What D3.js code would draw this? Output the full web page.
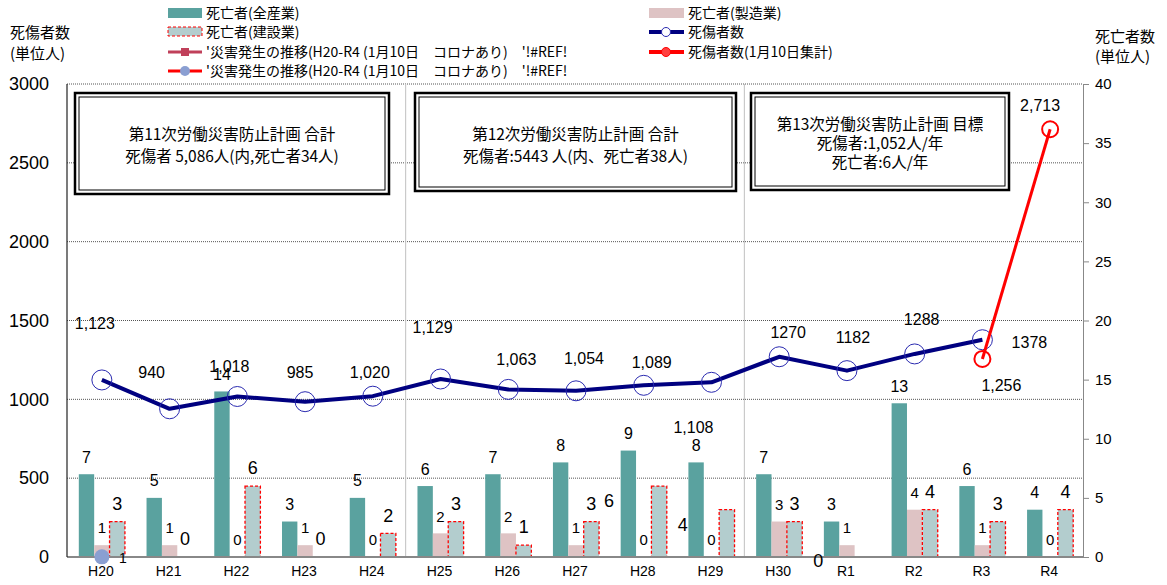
<!DOCTYPE html>
<html>
<head>
<meta charset="utf-8">
<script src="https://cdn.jsdelivr.net/npm/d3@7"></script>
<style>
  body { margin: 0; background: #fff; }
  svg { font-family: 'Liberation Sans', Arial, 'Noto Sans CJK JP', sans-serif; }
</style>
</head>
<body>
<svg id="chart" width="1167" height="585"></svg>
<script>
var years = ['H20', 'H21', 'H22', 'H23', 'H24', 'H25', 'H26', 'H27', 'H28', 'H29', 'H30', 'R1', 'R2', 'R3', 'R4'];
var deathsAll = [7, 5, 14, 3, 5, 6, 7, 8, 9, 8, 7, 3, 13, 6, 4];
var deathsMfg = [1, 1, 0, 1, 0, 2, 2, 1, 0, 0, 3, 1, 4, 1, 0];
var deathsCon = [3, 0, 6, 0, 2, 3, 1, 3, 6, 4, 3, 0, 4, 3, 4];
var casualties = [1123, 940, 1018, 985, 1020, 1129, 1063, 1054, 1089, 1108, 1270, 1182, 1288, 1378, null];
var casualtiesJan10 = [null, null, null, null, null, null, null, null, null, null, null, null, null, 1256, 2713];
var trendPoint = [1];
var leftTicks = [0, 500, 1000, 1500, 2000, 2500, 3000];
var rightTicks = [0, 5, 10, 15, 20, 25, 30, 35, 40];

// label nudges (px) for the labels excel put off their points
var casualtyLabelOffset = [[-7, -57], [-18, -36], [-8, -30], [-5, -29], [-3, -24], [-8, -52], [8, -30], [8, -32],
  [8, -23], [-18, 45], [9, -24], [6, -33], [7, -35], [47, 3]];
var janLabelOffset = {13: [19, 26], 14: [-10, -24]};
var conLabelOffset = {8: [-50, 33], 9: [-44, 33], 11: [-44, 22]};

var svg = d3.select('#chart');
var pl = 67, pr = 1083, pt = 84, pb = 557;

var x = d3.scaleBand().domain(years).range([pl, pr]);
var yL = d3.scaleLinear().domain([0, 3000]).range([pb, pt]);
var yR = d3.scaleLinear().domain([0, 40]).range([pb, pt]);
var bw = x.bandwidth() * 0.227;
function cx(i) { return x(years[i]) + x.bandwidth() / 2 + 1; }
function points(arr) {
  return arr.map(function (v, i) { return {v: v, i: i}; }).filter(function (d) { return d.v != null; });
}

// grid
svg.append('g').selectAll('line')
  .data(leftTicks.slice(1))
  .enter().append('line')
  .attr('x1', pl).attr('x2', pr)
  .attr('y1', function (d) { return yL(d); })
  .attr('y2', function (d) { return yL(d); })
  .attr('stroke', '#555').attr('stroke-dasharray', '1,1');

// plan period separators
svg.append('g').selectAll('line')
  .data(['H25', 'H30'])
  .enter().append('line')
  .attr('x1', function (d) { return x(d); })
  .attr('x2', function (d) { return x(d); })
  .attr('y1', pt).attr('y2', pb)
  .attr('stroke', '#c0c0c0');

// plan boxes
var boxes = [
  {x: 75, y: 93, w: 314, h: 101, lines: ['第11次労働災害防止計画 合計', '死傷者 5,086人(内,死亡者34人)'], ty: 135, gap: 22},
  {x: 415, y: 93, w: 321, h: 98, lines: ['第12次労働災害防止計画 合計', '死傷者:5443 人(内、死亡者38人)'], ty: 135, gap: 22},
  {x: 751, y: 93, w: 258, h: 97, lines: ['第13次労働災害防止計画 目標', '死傷者:1,052人/年', '死亡者:6人/年'], ty: 125, gap: 19}
];
boxes.forEach(function (b) {
  var g = svg.append('g');
  g.append('rect').attr('x', b.x).attr('y', b.y).attr('width', b.w).attr('height', b.h)
    .attr('fill', '#fff').attr('stroke', '#000').attr('stroke-width', 2.5);
  g.append('rect').attr('x', b.x + 4).attr('y', b.y + 4).attr('width', b.w - 8).attr('height', b.h - 8)
    .attr('fill', 'none').attr('stroke', '#000').attr('stroke-width', 1);
  b.lines.forEach(function (t, k) {
    g.append('text').attr('x', b.x + b.w / 2).attr('y', b.ty + k * b.gap)
      .attr('text-anchor', 'middle').attr('dy', '0.35em')
      .attr('font-size', 15.5).attr('font-family', "'Noto Sans CJK JP', sans-serif").text(t);
  });
});

// bars
var bars = svg.append('g');
bars.selectAll('.all').data(points(deathsAll)).enter().append('rect')
  .attr('x', function (d) { return cx(d.i) - bw * 1.5; })
  .attr('y', function (d) { return yR(d.v); })
  .attr('width', bw).attr('height', function (d) { return pb - yR(d.v); })
  .attr('fill', '#5aa29f');
bars.selectAll('.mfg').data(points(deathsMfg)).enter().append('rect')
  .attr('x', function (d) { return cx(d.i) - bw * 0.5; })
  .attr('y', function (d) { return yR(d.v); })
  .attr('width', bw).attr('height', function (d) { return pb - yR(d.v); })
  .attr('fill', '#dec3c4');
bars.selectAll('.con').data(points(deathsCon).filter(function (d) { return d.v > 0; })).enter().append('rect')
  .attr('x', function (d) { return cx(d.i) + bw * 0.5; })
  .attr('y', function (d) { return yR(d.v); })
  .attr('width', bw).attr('height', function (d) { return pb - yR(d.v); })
  .attr('fill', '#b3cdce').attr('stroke', '#ff0000').attr('stroke-width', 1.3).attr('stroke-dasharray', '3,2');

// axes
svg.append('line').attr('x1', pl).attr('x2', pr).attr('y1', pb).attr('y2', pb)
  .attr('stroke', '#888').attr('stroke-width', 2);
svg.append('line').attr('x1', pl).attr('x2', pl).attr('y1', pt).attr('y2', pb)
  .attr('stroke', '#222').attr('stroke-width', 1.2);

var axL = svg.append('g').attr('transform', 'translate(' + (pl - 15) + ',0)')
  .call(d3.axisLeft(yL).tickValues(leftTicks).tickSize(0).tickFormat(d3.format('d')));
axL.select('.domain').remove();
axL.selectAll('text').attr('font-size', 18).attr('fill', '#000').attr('font-family', "'Liberation Sans', Arial, sans-serif");

var axR = svg.append('g').attr('transform', 'translate(' + pr + ',0)')
  .call(d3.axisRight(yR).tickValues(rightTicks).tickSize(6).tickPadding(6));
axR.select('.domain').attr('stroke', '#888');
axR.selectAll('line').attr('stroke', '#888');
axR.selectAll('text').attr('font-size', 15).attr('fill', '#000').attr('font-family', "'Liberation Sans', Arial, sans-serif");

var axB = svg.append('g').attr('transform', 'translate(0,' + pb + ')')
  .call(d3.axisBottom(x).tickSize(0).tickPadding(9));
axB.select('.domain').remove();
axB.selectAll('text').attr('font-size', 14).attr('fill', '#000').attr('font-family', "'Liberation Sans', Arial, sans-serif");

// casualty lines
var lineL = d3.line()
  .defined(function (d) { return d != null; })
  .x(function (d, i) { return cx(i); })
  .y(function (d) { return yL(d); });

svg.append('path').datum(casualties).attr('d', lineL)
  .attr('fill', 'none').attr('stroke', '#000080').attr('stroke-width', 4).attr('stroke-linejoin', 'round');
svg.append('g').selectAll('circle').data(points(casualties)).enter().append('circle')
  .attr('cx', function (d) { return cx(d.i); })
  .attr('cy', function (d) { return yL(d.v); })
  .attr('r', 10).attr('fill', 'none').attr('stroke', '#2a2ab0').attr('stroke-width', 1);

svg.append('path').datum(casualtiesJan10).attr('d', lineL)
  .attr('fill', 'none').attr('stroke', '#ff0000').attr('stroke-width', 3);
svg.append('g').selectAll('circle').data(points(casualtiesJan10)).enter().append('circle')
  .attr('cx', function (d) { return cx(d.i); })
  .attr('cy', function (d) { return yL(d.v); })
  .attr('r', 8).attr('fill', 'none').attr('stroke', '#ff0000').attr('stroke-width', 2);

// trend marker
svg.append('g').selectAll('circle').data(points(trendPoint)).enter().append('circle')
  .attr('cx', function (d) { return cx(d.i); })
  .attr('cy', function (d) { return yL(d.v); })
  .attr('r', 7.5).attr('fill', '#8a9fd2');

// labels
var labels = svg.append('g').attr('fill', '#000');
function label(px, py, t, size) {
  labels.append('text').attr('x', px).attr('y', py).attr('dy', '0.35em')
    .attr('text-anchor', 'middle').attr('font-size', size).text(t);
}
var fmtC = d3.format(',');
points(casualties).forEach(function (d) {
  var t = (d.i >= 10) ? String(d.v) : fmtC(d.v);
  label(cx(d.i) + casualtyLabelOffset[d.i][0], yL(d.v) + casualtyLabelOffset[d.i][1], t, 16);
});
points(casualtiesJan10).forEach(function (d) {
  label(cx(d.i) + janLabelOffset[d.i][0], yL(d.v) + janLabelOffset[d.i][1], fmtC(d.v), 16);
});
points(deathsAll).forEach(function (d) { label(cx(d.i) - bw, yR(d.v) - 17, d.v, 16); });
points(deathsMfg).forEach(function (d) { label(cx(d.i), yR(d.v) - 17, d.v, 15); });
points(deathsCon).forEach(function (d) {
  var o = conLabelOffset[d.i] || [0, 0];
  label(cx(d.i) + bw + o[0], yR(d.v) - 18 + o[1], d.v, 18);
});
points(trendPoint).forEach(function (d) { label(cx(d.i) + 21, yL(d.v) + 1, d.v, 14); });

// axis titles
var jp = "'Noto Sans CJK JP', sans-serif";
[['死傷者数', 10, 33], ['(単位人)', 10, 54], ['死亡者数', 1095, 37], ['(単位人)', 1095, 57]].forEach(function (t) {
  svg.append('text').attr('x', t[1]).attr('y', t[2]).attr('dy', '0.35em')
    .attr('font-size', 15).attr('font-family', jp).text(t[0]);
});

// legend
var lg = svg.append('g').attr('font-size', 14).attr('font-family', jp);
function legText(px, py, t) {
  lg.append('text').attr('x', px).attr('y', py).attr('dy', '0.35em').text(t);
}
lg.append('rect').attr('x', 168).attr('y', 8).attr('width', 34).attr('height', 10).attr('fill', '#5aa29f');
legText(206, 13, '死亡者(全産業)');
lg.append('rect').attr('x', 168).attr('y', 27).attr('width', 34).attr('height', 9)
  .attr('fill', '#b3cdce').attr('stroke', '#ff0000').attr('stroke-dasharray', '3,2');
legText(206, 32, '死亡者(建設業)');
lg.append('line').attr('x1', 168).attr('x2', 202).attr('y1', 52).attr('y2', 52).attr('stroke', '#c0405a').attr('stroke-width', 3);
lg.append('rect').attr('x', 181).attr('y', 48).attr('width', 8).attr('height', 8).attr('fill', '#c0405a');
legText(206, 52, "'災害発生の推移(H20-R4 (1月10日　コロナあり)　'!#REF!");
lg.append('line').attr('x1', 168).attr('x2', 202).attr('y1', 71).attr('y2', 71).attr('stroke', '#ff0000').attr('stroke-width', 3);
lg.append('circle').attr('cx', 185).attr('cy', 71).attr('r', 5).attr('fill', '#8a9fd2');
legText(206, 71, "'災害発生の推移(H20-R4 (1月10日　コロナあり)　'!#REF!");

lg.append('rect').attr('x', 649).attr('y', 8).attr('width', 35).attr('height', 10).attr('fill', '#dec3c4');
legText(688, 13, '死亡者(製造業)');
lg.append('line').attr('x1', 649).attr('x2', 684).attr('y1', 32).attr('y2', 32).attr('stroke', '#000080').attr('stroke-width', 4);
lg.append('circle').attr('cx', 666).attr('cy', 32).attr('r', 4.5).attr('fill', '#fff').attr('stroke', '#2a2ab0');
legText(688, 32, '死傷者数');
lg.append('line').attr('x1', 649).attr('x2', 684).attr('y1', 52).attr('y2', 52).attr('stroke', '#ff0000').attr('stroke-width', 4);
lg.append('circle').attr('cx', 666).attr('cy', 52).attr('r', 4.5).attr('fill', '#ff4040').attr('stroke', '#ff0000');
legText(688, 52, '死傷者数(1月10日集計)');
</script>
</body>
</html>
